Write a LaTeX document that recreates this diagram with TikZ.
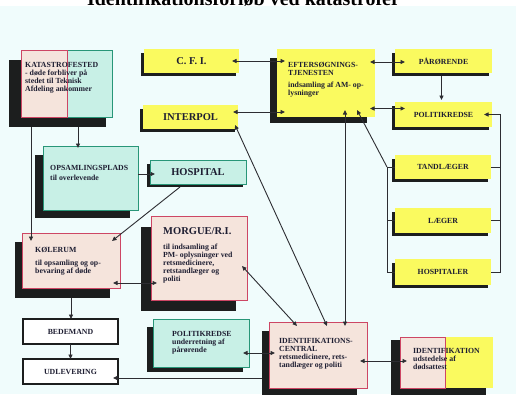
\documentclass[tikz,border=0pt]{standalone}
\usepackage{fontspec}
\setmainfont{Liberation Serif}
\usetikzlibrary{arrows.meta,calc}
\definecolor{bg}{RGB}{240,252,252}
\definecolor{yel}{RGB}{250,250,95}
\definecolor{tealf}{RGB}{200,240,230}
\definecolor{teald}{RGB}{40,150,120}
\definecolor{pinkf}{RGB}{245,228,220}
\definecolor{pinkd}{RGB}{205,70,100}
\definecolor{shad}{RGB}{28,30,30}
\definecolor{ink}{RGB}{30,30,50}
\definecolor{wirec}{RGB}{45,45,50}
\begin{document}
\begin{tikzpicture}[x=1pt,y=-1pt,
  box/.style={anchor=north west, inner sep=0pt, outer sep=0pt},
  ybox/.style={box, fill=yel},
  tbox/.style={box, fill=tealf, draw=teald, line width=1pt},
  pbox/.style={box, fill=pinkf, draw=pinkd, line width=1pt},
  wbox/.style={box, fill=white, draw=shad, line width=1.1pt},
  sm/.style={font=\bfseries\fontsize{7.8}{8}\selectfont, text=ink},
  lg/.style={font=\bfseries\fontsize{10.5}{12}\selectfont, text=ink},
  txt/.style={sm, anchor=north west, inner sep=0pt, align=left},
  lgtxt/.style={lg, anchor=north west, inner sep=0pt, align=left},
  shadowfill/.style={fill=shad},
  wire/.style={draw=wirec, line width=0.9pt},
  arr/.style={wire, -{Triangle[length=4.5pt,width=4pt]}},
  darr/.style={wire, {Triangle[length=4.5pt,width=4pt]}-{Triangle[length=4.5pt,width=4pt]}}]
\useasboundingbox (0,0) rectangle (516,394);
\fill[white] (0,0) rectangle (516,394);
\fill[bg] (0,6) rectangle (516,394);
\node[font=\bfseries\fontsize{20}{24}\selectfont, anchor=base, inner sep=0pt] (title) at (243.5,5) {Identifikationsforløb ved katastrofer};

% shadows
\fill[shadowfill] (9,60) rectangle (106,127);
\fill[shadowfill] (141,53) rectangle (236,76);
\fill[shadowfill] (140,109) rectangle (235,132);
\fill[shadowfill] (270,58) rectangle (367,123);
\fill[shadowfill] (392,53) rectangle (489,76);
\fill[shadowfill] (392,106) rectangle (489,130);
\fill[shadowfill] (392,159) rectangle (488,182);
\fill[shadowfill] (392,212) rectangle (488,236);
\fill[shadowfill] (392,263) rectangle (488,288);
\fill[shadowfill] (35,155) rectangle (130,218);
\fill[shadowfill] (147,164) rectangle (243,187);
\fill[shadowfill] (15,242) rectangle (110,298);
\fill[shadowfill] (141,227) rectangle (236,311);
\fill[shadowfill] (147,327) rectangle (243,372);
\fill[shadowfill] (262,331) rectangle (357,400);
\fill[shadowfill] (391,340) rectangle (486,400);

% boxes
\node[tbox, minimum width=91pt, minimum height=67pt] (kat) at (21,50) {};
\fill[pinkf] (kat.north west) rectangle ($(kat.south west)+(46,0)$);
\draw[pinkd, line width=1pt] (kat.north west) rectangle ($(kat.south west)+(46,0)$);
\node[ybox, lg, minimum width=95pt, minimum height=24pt] (cfi) at (144,49) {C. F. I.};
\node[ybox, lg, minimum width=95pt, minimum height=24pt] (interpol) at (143,105) {INTERPOL};
\node[ybox, minimum width=98pt, minimum height=68pt] (efter) at (277,49) {};
\node[ybox, sm, minimum width=97pt, minimum height=24pt] (paa) at (395,49) {PÅRØRENDE};
\node[ybox, sm, minimum width=97pt, minimum height=25pt] (polr) at (395,102) {POLITIKREDSE};
\node[ybox, sm, minimum width=96pt, minimum height=24pt] (tand) at (395,155) {TANDLÆGER};
\node[ybox, sm, minimum width=96pt, minimum height=25pt] (laeg) at (395,208) {LÆGER};
\node[ybox, sm, minimum width=96pt, minimum height=26pt] (hospr) at (395,259) {HOSPITALER};
\node[tbox, minimum width=95pt, minimum height=64pt] (opsam) at (43,146) {};
\node[tbox, lg, minimum width=96pt, minimum height=24pt] (hosp) at (150,160) {HOSPITAL};
\node[pbox, minimum width=98pt, minimum height=55pt] (koel) at (22,233) {};
\node[pbox, minimum width=96pt, minimum height=84pt] (morgue) at (151,216) {};
\node[wbox, sm, minimum width=95pt, minimum height=25pt] (bede) at (23,319) {BEDEMAND};
\node[wbox, sm, minimum width=95pt, minimum height=25pt] (udl) at (23,359) {UDLEVERING};
\node[tbox, minimum width=96pt, minimum height=48pt] (polt) at (153,319) {};
\node[pbox, minimum width=98pt, minimum height=66pt] (central) at (269,322) {};
\node[ybox, minimum width=93pt, minimum height=51pt] (ident) at (400,337) {};
\fill[pinkf] (ident.north west) rectangle ($(ident.south west)+(45,0)$);
\draw[pinkd, line width=1pt] (ident.north west) rectangle ($(ident.south west)+(45,0)$);

% texts
\node[txt] (katT) at (25,62.5) {KATASTROFESTED\\- døde forbliver på\\stedet til Teknisk\\Afdeling ankommer};
\node[txt] (efterT) at (288,61.5) {EFTERSØGNINGS-\\TJENESTEN\\[4pt]indsamling af AM- op-\\lysninger};
\node[txt] (opsamT) at (50,165.5) {OPSAMLINGSPLADS\\[2pt]til overlevende};
\node[txt] (koelT) at (35,246.5) {KØLERUM\\[5pt]til opsamling og op-\\bevaring af døde};
\node[lgtxt] (morgH) at (163,227.5) {MORGUE/R.I.};
\node[txt] (morgT) at (163,243.5) {til indsamling af\\PM- oplysninger ved\\retsmedicinere,\\retstandlæger og\\politi};
\node[txt] (poltT) at (172,331.5) {POLITIKREDSE\\underretning af\\pårørende};
\node[txt] (centT) at (279,338.5) {IDENTIFIKATIONS-\\CENTRAL\\retsmedicinere, rets-\\tandlæger og politi};
\node[txt] (identT) at (413,348.5) {IDENTIFIKATION\\udstedelse af\\dødsattest};

% connectors
\draw[darr] ($(cfi.east)+(-7,0)$) -- ($(efter.west |- cfi.east)+(8,0)$);
\draw[darr] ($(interpol.east)+(-5,-5)$) -- ($(efter.west |- interpol.east)+(8,-5)$);
\draw[darr] ($(efter.east |- paa.east)+(-5,1)$) -- ($(paa.west)+(10,1)$);
\draw[darr] ($(efter.east |- polr.west)+(-5,-6)$) -- ($(polr.west)+(10,-6)$);
\draw[arr] ($(paa.south)+(-2,3)$) -- ($(polr.north)+(-2,-2)$);
\coordinate (rb) at (500,0);
\draw[wire] (tand.east) -- (tand.east -| rb);
\draw[wire] (laeg.east) -- (laeg.east -| rb);
\draw[arr] (hospr.east) -- (hospr.east -| rb) -- (polr.east -| rb) -- ($(polr.east)+(-8,0)$);
\coordinate (lb) at (387,0);
\draw[wire] (tand.west) -- (tand.west -| lb) -- (hospr.west -| lb) -- (hospr.west);
\draw[wire] (laeg.west) -- (laeg.west -| lb);
\draw[arr] (tand.west -| lb) -- ($(efter.south east)+(-18,-7)$);
\coordinate (vx) at ($(efter.south)+(19,-7)$);
\draw[darr] (vx) -- ($(vx |- central.north)+(0,4)$);
\draw[darr] ($(interpol.south east)+(-3,-4)$) -- ($(central.north)+(9,4)$);
\draw[darr] ($(morgue.east)+(-5,8)$) -- ($(central.north)+(-21,4)$);
\draw[darr] ($(polt.east)+(-6,10)$) -- ($(central.west |- polt.east)+(6,10)$);
\draw[arr] ($(central.south west)+(-7,-10)$) -- ($(udl.east |- central.south west)+(-5,-10)$);
\draw[darr] ($(central.east)+(-7,6)$) -- ($(ident.west |- central.east)+(7,6)$);
\draw[darr] ($(koel.east)+(-7,22.5)$) -- ($(morgue.west |- koel.east)+(6,22.5)$);
\draw[arr] ($(koel.south)+(0,10)$) -- (koel.south |- bede.north);
\draw[arr] (bede.south) -- (udl.north);
\coordinate (k1) at ($(kat.south)+(11.5,10)$);
\draw[arr] (k1) -- ($(k1 |- opsam.north)+(0,2)$);
\coordinate (k2) at ($(kat.south west)+(10,10)$);
\draw[arr] (k2) -- ($(k2 |- koel.north)+(0,8)$);
\draw[arr] ($(opsam.east)+(0,-4)$) -- ($(hosp.west |- opsam.east)+(5,-4)$);
\draw[arr] ($(hosp.south)+(-18,3)$) -- ($(koel.east)+(-8,-19.5)$);
\end{tikzpicture}
\end{document}
